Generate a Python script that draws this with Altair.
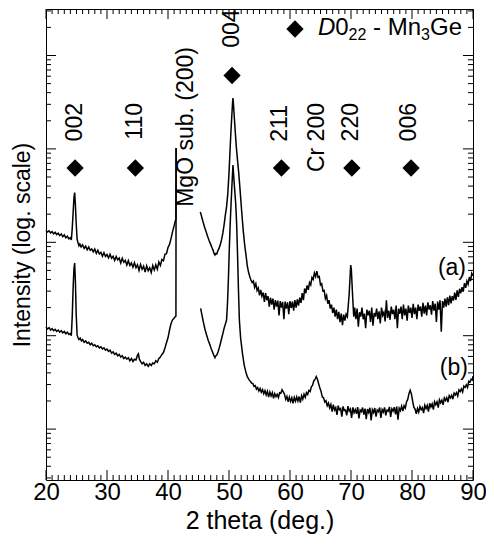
import altair as alt
import pandas as pd

FONT = "Liberation Sans"

# ---------------- data (2 theta in deg., intensity in counts) ----------------
A_LEFT = [(20.00,1340),(20.25,1290),(20.50,1330),(20.75,1260),(21.00,1300),(21.25,1230),(21.50,1280),
(21.75,1210),(22.00,1250),(22.25,1180),(22.50,1230),(22.75,1150),(23.00,1200),(23.25,1120),(23.50,1160),
(23.75,1090),(24.00,1120),(24.15,1060),(24.30,1400),(24.45,2100),(24.58,3000),(24.70,3400),(24.82,2500),
(24.95,1600),(25.10,1080),(25.25,990),(25.40,920),(25.55,960),(25.75,890),(26.00,940),(26.25,860),
(26.50,910),(26.75,830),(27.00,890),(27.25,820),(27.50,850),(27.75,790),(28.00,845),(28.25,760),
(28.50,820),(28.75,750),(29.00,780),(29.25,710),(29.50,775),(29.75,705),(30.00,740),(30.25,680),
(30.50,745),(30.75,675),(31.00,710),(31.25,640),(31.50,705),(31.75,650),(32.00,680),(32.25,600),
(32.50,675),(32.75,610),(33.00,640),(33.25,570),(33.50,635),(33.75,565),(34.00,600),(34.25,540),
(34.50,605),(34.75,535),(35.00,575),(35.25,500),(35.50,580),(35.75,515),(36.00,555),(36.25,480),
(36.50,560),(36.75,495),(37.00,535),(37.25,475),(37.50,565),(37.75,505),(38.00,575),(38.25,515),
(38.50,615),(38.75,565),(39.00,655),(39.25,635),(39.50,745),(39.75,755),(40.00,880),(40.25,950),
(40.50,1100),(40.75,1300),(41.00,1500),(41.20,1700),(41.30,1750),(41.33,10200)]

A_RIGHT = [(45.30,2110),(45.50,1900),(45.75,1650),(46.00,1450),(46.25,1300),(46.50,1150),(46.75,1040),
(47.00,950),(47.20,880),(47.40,820),(47.55,760),(47.70,730),(47.85,760),(48.00,750),(48.20,820),
(48.40,870),(48.60,960),(48.80,1080),(49.00,1260),(49.20,1550),(49.40,1950),(49.60,2400),(49.80,3300),
(50.00,5500),(50.15,9000),(50.30,14500),(50.45,22000),(50.58,31000),(50.65,35100),(50.75,29000),
(50.90,20400),(51.05,14500),(51.20,10500),(51.40,7500),(51.60,5500),(51.85,3400),(52.10,2060),
(52.35,1300),(52.60,900),(52.80,720),(53.00,560),(53.20,480),(53.40,430),(53.60,395),(53.80,370),
(54.0,385),(54.2,330),(54.4,360),(54.6,305),(54.8,325),(55.0,270),(55.2,310),(55.4,265),(55.6,290),
(55.8,230),(56.0,285),(56.2,240),(56.4,265),(56.6,205),(56.8,255),(57.0,215),(57.2,250),(57.4,190),
(57.6,240),(57.8,205),(58.0,238),(58.2,165),(58.4,235),(58.6,200),(58.8,230),(59.0,150),(59.2,232),
(59.4,195),(59.6,228),(59.8,170),(60.0,235),(60.2,198),(60.4,232),(60.6,185),(60.8,240),(61.0,200),
(61.2,245),(61.4,210),(61.6,255),(61.8,225),(62.0,285),(62.2,240),(62.4,320),(62.6,285),(62.8,345),
(63.0,310),(63.2,370),(63.4,350),(63.6,420),(63.8,400),(64.0,470),(64.2,430),(64.4,490),(64.6,420),
(64.8,430),(65.0,350),(65.2,360),(65.4,300),(65.6,305),(65.8,250),(66.0,270),(66.2,220),(66.4,240),
(66.6,195),(66.8,215),(67.0,175),(67.2,200),(67.4,160),(67.6,190),(67.8,150),(68.0,180),(68.2,140),
(68.4,172),(68.6,130),(68.8,168),(69.0,145),(69.2,170),(69.4,160),(69.55,210),(69.7,280),(69.85,430),
(69.95,570),(70.05,520),(70.15,380),(70.3,240),(70.45,160),(70.6,200),(70.8,150),(71.0,195),(71.2,125),
(71.4,178),(71.6,160),(71.8,200),(72.0,150),(72.2,172),(72.4,120),(72.6,190),(72.8,165),(73.0,185),
(73.2,140),(73.4,200),(73.6,128),(73.8,175),(74.0,160),(74.2,195),(74.4,150),(74.6,182),(74.8,135),
(75.0,200),(75.2,165),(75.4,178),(75.6,142),(75.8,240),(76.0,155),(76.2,185),(76.4,148),(76.6,205),
(76.8,170),(77.0,190),(77.2,150),(77.4,210),(77.6,120),(77.8,195),(78.0,172),(78.2,205),(78.4,150),
(78.6,215),(78.8,165),(79.0,195),(79.2,145),(79.4,210),(79.6,175),(79.8,200),(80.0,155),(80.2,220),
(80.4,170),(80.6,200),(80.8,150),(81.0,215),(81.2,185),(81.4,205),(81.6,160),(81.8,225),(82.0,172),
(82.2,210),(82.4,165),(82.6,228),(82.8,190),(83.0,212),(83.2,168),(83.4,235),(83.6,185),(83.8,220),
(84.0,140),(84.2,232),(84.4,190),(84.6,240),(84.8,110),(85.0,235),(85.2,200),(85.4,250),(85.6,205),
(85.8,258),(86.0,212),(86.2,268),(86.4,222),(86.6,265),(86.8,238),(87.0,290),(87.2,242),(87.4,305),
(87.6,260),(87.8,318),(88.0,285),(88.2,330),(88.4,296),(88.6,365),(88.8,325),(89.0,385),(89.2,355),
(89.4,425),(89.6,385),(89.8,465),(90.0,440)]

B_LEFT = [(20.00,124),(20.25,118),(20.50,122),(20.75,115),(21.00,119),(21.25,113),(21.50,117),
(21.75,111),(22.00,115),(22.25,109),(22.50,113),(22.75,107),(23.00,111),(23.25,105),(23.50,109),
(23.75,103),(24.00,106),(24.15,100),(24.30,160),(24.45,330),(24.58,520),(24.70,600),(24.82,380),
(24.95,170),(25.10,102),(25.25,95),(25.40,91),(25.60,94),(25.80,88),(26.00,91),(26.25,85),(26.50,88),
(26.75,83),(27.00,85),(27.25,80),(27.50,83),(27.75,78),(28.00,80),(28.25,76),(28.50,78),(28.75,74),
(29.00,76),(29.25,72),(29.50,74),(29.75,70),(30.00,72),(30.25,68),(30.50,70),(30.75,65),(31.00,67),
(31.25,63),(31.50,65),(31.75,61),(32.00,63),(32.25,59),(32.50,61),(32.75,57),(33.00,59),(33.25,56),
(33.50,58),(33.75,54),(34.00,57),(34.25,53),(34.50,56),(34.75,55),(35.00,62),(35.15,64),(35.30,56),
(35.50,53),(35.75,50),(36.00,52),(36.25,48),(36.50,50),(36.75,47),(37.00,50),(37.25,48),(37.50,51),
(37.75,50),(38.00,54),(38.25,52),(38.50,57),(38.75,59),(39.00,63),(39.25,66),(39.50,74),(39.75,84),
(40.00,95),(40.25,115),(40.50,135),(40.75,148),(41.00,154),(41.20,160),(41.30,162),(41.33,10200)]

B_RIGHT = [(45.35,196),(45.55,168),(45.80,140),(46.05,118),(46.30,103),(46.60,89),(46.90,79),
(47.10,72),(47.30,67),(47.50,62),(47.70,58),(47.85,61),(48.00,62),(48.20,67),(48.40,74),(48.60,83),
(48.80,94),(49.00,106),(49.20,120),(49.40,133),(49.60,147),(49.75,220),(49.90,400),(50.05,850),
(50.20,1600),(50.35,2700),(50.50,4300),(50.65,6700),(50.80,4800),(50.95,3500),(51.10,2600),
(51.25,1600),(51.40,750),(51.55,310),(51.70,147),(51.90,95),(52.20,65),(52.50,48),(52.80,40),
(53.00,36.5),(53.30,33.6),
(53.5,32.5),(53.7,31.0),(53.9,30.8),(54.1,28.6),(54.3,29.2),(54.5,26.8),(54.7,27.9),(54.9,25.6),
(55.1,27.2),(55.3,24.8),(55.5,26.5),(55.7,23.9),(55.9,25.8),(56.1,23.2),(56.3,25.4),(56.5,22.0),
(56.7,24.9),(56.9,22.6),(57.1,24.5),(57.3,21.4),(57.5,24.0),(57.7,22.2),(57.9,23.6),(58.1,21.8),
(58.3,24.5),(58.5,24.2),(58.7,26.4),(58.9,25.0),(59.1,23.6),(59.3,20.8),(59.5,22.4),(59.7,19.6),
(59.9,22.0),(60.1,19.8),(60.3,21.6),(60.5,18.9),(60.7,21.8),(60.9,19.9),(61.1,22.1),(61.3,20.0),
(61.5,22.3),(61.7,19.2),(61.9,22.8),(62.1,20.9),(62.3,23.6),(62.5,21.9),(62.7,24.6),(62.9,23.5),
(63.1,26.0),(63.3,25.2),(63.5,28.4),(63.7,29.5),(63.9,32.8),(64.1,34.0),(64.3,36.5),(64.5,34.2),
(64.7,30.5),(64.9,27.6),(65.1,25.2),(65.3,22.0),(65.5,21.6),(65.7,19.5),(65.9,20.1),(66.1,17.8),
(66.3,19.0),(66.5,16.9),(66.7,18.4),(66.9,15.4),(67.1,18.3),(67.3,16.0),(67.5,17.0),(67.7,14.2),
(67.9,17.8),(68.1,16.1),(68.3,16.6),(68.5,13.6),(68.7,17.5),(68.9,15.8),(69.1,16.0),(69.3,14.0),
(69.5,17.6),(69.7,15.6),(69.9,16.4),(70.1,13.2),(70.3,17.1),(70.5,15.0),(70.7,16.2),(70.9,14.6),
(71.1,17.2),(71.3,13.0),(71.5,16.0),(71.7,15.4),(71.9,17.0),(72.1,14.3),(72.3,16.6),(72.5,12.8),
(72.7,16.4),(72.9,15.1),(73.1,16.9),(73.3,12.4),(73.5,16.1),(73.7,15.0),(73.9,16.8),(74.1,13.6),
(74.3,16.0),(74.5,15.4),(74.7,17.0),(74.9,13.2),(75.1,16.2),(75.3,15.2),(75.5,17.1),(75.7,14.0),
(75.9,16.0),(76.1,15.6),(76.3,17.3),(76.5,13.5),(76.7,16.5),(76.9,15.6),(77.1,17.2),(77.3,14.4),
(77.5,17.4),(77.7,12.6),(77.9,16.8),(78.1,15.8),(78.3,17.6),(78.5,15.6),(78.7,17.8),(78.9,16.8),
(79.1,19.5),(79.3,20.8),(79.5,24.0),(79.7,26.0),(79.9,23.8),(80.1,20.0),(80.3,17.2),(80.5,16.4),
(80.7,14.6),(80.9,16.6),(81.1,15.2),(81.3,17.4),(81.5,16.1),(81.7,17.0),(81.9,14.8),(82.1,18.0),
(82.3,16.6),(82.5,17.9),(82.7,15.4),(82.9,18.9),(83.1,17.2),(83.3,18.6),(83.5,16.2),(83.7,19.6),
(83.9,18.2),(84.1,19.6),(84.3,17.0),(84.5,20.6),(84.7,19.1),(84.9,20.4),(85.1,18.2),(85.3,21.6),
(85.5,20.3),(85.7,21.7),(85.9,19.4),(86.1,22.8),(86.3,21.6),(86.5,23.0),(86.7,20.9),(86.9,24.3),
(87.1,23.2),(87.3,24.6),(87.5,22.6),(87.7,26.3),(87.9,25.2),(88.1,26.9),(88.3,25.0),(88.5,28.9),
(88.7,27.9),(88.9,29.8),(89.1,28.0),(89.3,32.5),(89.5,31.8),(89.7,34.2),(89.9,33.5),(90.0,37.0)]

# D0_22 - Mn3Ge reflections (diamond markers)
MARK_HKL = ["002", "110", "004", "211", "220", "006"]
MARK_2THETA = [24.77, 34.65, 50.5, 58.6, 70.14, 79.85]
MARK_LEVEL = [6250, 6250, 61100, 6250, 6250, 6250]

# peak annotations (text); the upper end of each rotated text sits at the given level
LABEL_TEXT = ["002", "110", "MgO sub. (200)", "004", "211", "Cr 200", "220", "006"]
LABEL_2THETA = [24.73, 34.65, 43.0, 50.47, 58.44, 64.42, 70.04, 79.47]
LABEL_LEVEL = [31000, 31000, 123300, 312000, 29500, 31000, 31000, 31000]

SAMPLE_TEXT = ["(a)", "(b)"]
SAMPLE_2THETA = [88.86, 89.18]
SAMPLE_LEVEL = [530, 45.1]

X_LABELS = [20, 30, 40, 50, 60, 70, 80, 90]
X_MINOR = [v for v in range(21, 90) if v % 10]
Y_MAJOR = [10, 100, 1000, 10000, 100000]
Y_MINOR = [m * 10 ** e for e in range(0, 6) for m in range(2, 10) if 2.86 < m * 10 ** e < 314000]

# ---------------- tables ----------------
rows = []
for seg, pts in [("a1", A_LEFT), ("a2", A_RIGHT), ("b1", B_LEFT), ("b2", B_RIGHT)]:
    for x, y in pts:
        rows.append({"two_theta": x, "intensity": y, "segment": seg})
curves = pd.DataFrame(rows)
markers = pd.DataFrame({"hkl": MARK_HKL, "two_theta": MARK_2THETA, "intensity": MARK_LEVEL})
labels = pd.DataFrame({"label": LABEL_TEXT, "two_theta": LABEL_2THETA, "intensity": LABEL_LEVEL})
samples = pd.DataFrame({"label": SAMPLE_TEXT, "two_theta": SAMPLE_2THETA, "intensity": SAMPLE_LEVEL})
xmaj = pd.DataFrame({"two_theta": X_LABELS})
xmin = pd.DataFrame({"two_theta": X_MINOR})
ymaj = pd.DataFrame({"intensity": Y_MAJOR})
ymin = pd.DataFrame({"intensity": Y_MINOR})
one = pd.DataFrame({"k": [0]})

W, H = 427, 471

X = alt.X("two_theta:Q",
          scale=alt.Scale(domain=[20, 90], nice=False, zero=False),
          axis=alt.Axis(values=X_LABELS, title="2 theta (deg.)", ticks=False, tickSize=0,
                        domain=False, grid=False, labelFontSize=24, labelPadding=0,
                        labelFlush=False, labelOverlap=False, titleFontSize=25,
                        titlePadding=4, titleFontWeight="normal", labelFont=FONT,
                        titleFont=FONT, labelColor="black", titleColor="black"))
Y = alt.Y("intensity:Q",
          scale=alt.Scale(type="log", domain=[2.851, 314700], nice=False),
          axis=alt.Axis(labels=False, ticks=False, tickSize=0, domain=False, grid=False,
                        title="Intensity (log. scale)", titleFontSize=23, titlePadding=12,
                        titleFontWeight="normal", titleFont=FONT, titleColor="black"))

lines = alt.Chart(curves).mark_line(color="black", strokeWidth=1.5).encode(
    x=X, y=Y, detail="segment:N")

def xticks(df, length):
    bot = alt.Chart(df).mark_rule(color="black", strokeWidth=1).encode(
        x=X, y=alt.value(H), y2=alt.value(H - length))
    top = alt.Chart(df).mark_rule(color="black", strokeWidth=1).encode(
        x=X, y=alt.value(0), y2=alt.value(length))
    return [bot, top]

def yticks(df, length):
    left = alt.Chart(df).mark_rule(color="black", strokeWidth=1).encode(
        y=Y, x=alt.value(0), x2=alt.value(length))
    right = alt.Chart(df).mark_rule(color="black", strokeWidth=1).encode(
        y=Y, x=alt.value(W), x2=alt.value(W - length))
    return [left, right]

diamonds = alt.Chart(markers).mark_point(shape="diamond", filled=True, size=300,
                                         color="black", opacity=1).encode(x=X, y=Y)

peak_text = alt.Chart(labels).mark_text(angle=270, align="right", baseline="middle",
                                        fontSize=23, font=FONT, color="black").encode(
    x=X, y=Y, text="label:N")

sample_text = alt.Chart(samples).mark_text(align="right", baseline="middle",
                                           fontSize=23, font=FONT, color="black").encode(
    x=X, y=Y, text="label:N")

def piece(txt, px, py, size, italic=False):
    return alt.Chart(one).mark_text(text=txt, fontSize=size, font=FONT,
                                    fontStyle="italic" if italic else "normal",
                                    align="left", baseline="alphabetic",
                                    color="black").encode(x=alt.value(px), y=alt.value(py))

legend = [
    alt.Chart(one).mark_point(shape="diamond", filled=True, size=300, color="black",
                              opacity=1).encode(x=alt.value(249), y=alt.value(20)),
    piece("D", 272, 26, 24, italic=True),
    piece("0", 289.3, 26, 24),
    piece("22", 302.6, 30.5, 16),
    piece("- Mn", 327.1, 26, 24),
    piece("3", 375.1, 30.5, 16),
    piece("Ge", 384.0, 26, 24),
]

layers = [lines] + xticks(xmaj, 10) + xticks(xmin, 5) + yticks(ymaj, 10) + yticks(ymin, 5) \
         + [diamonds, peak_text, sample_text] + legend

chart = alt.layer(*layers).properties(
    width=W, height=H,
    autosize=alt.AutoSizeParams(type="none"),
    padding={"left": 38, "top": 1, "right": 13, "bottom": 61},
).configure_view(stroke="black", strokeWidth=1).configure_axis(grid=False)

chart.save("out.html", embed_options={"renderer": "svg", "actions": False})
